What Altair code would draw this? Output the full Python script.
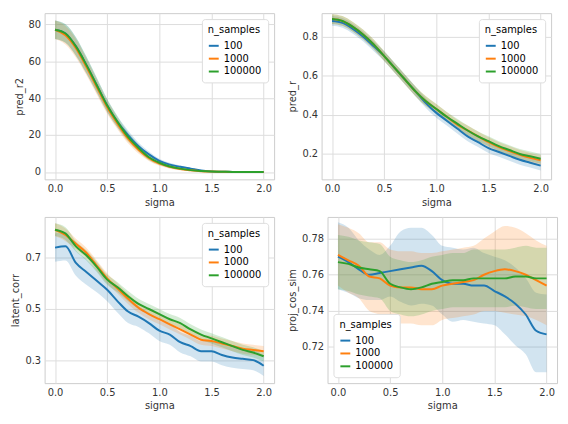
import altair as alt
import pandas as pd

sigma = [round(i * 0.1, 1) for i in range(21)]
n_samples = ["100", "1000", "100000"]
colors = ["#1f77b4", "#ff7f0e", "#2ca02c"]

# pred_r2
r2_100 = [77, 75, 68, 58, 47, 36, 27, 20, 14, 9.5, 6, 4, 2.8, 1.8, 0.8, 0.3, 0.1, 0.05, 0, 0, 0]
r2_1000 = [77, 74, 67, 57, 46, 35, 26, 18, 12, 7.5, 4.5, 2.8, 1.6, 0.9, 0.4, 0.2, 0.1, 0, 0, 0, 0]
r2_100000 = [77, 75, 68, 58, 47, 36, 27, 19, 13, 8, 5, 3, 1.8, 1, 0.5, 0.2, 0.1, 0, 0, 0, 0]
r2_band = [5, 5, 5, 4.5, 4, 3.5, 3, 2.5, 2, 1.6, 1.2, 1, 0.7, 0.5, 0.3, 0.2, 0.1, 0.1, 0, 0, 0]

# pred_r
r_100 = [0.88, 0.87, 0.84, 0.80, 0.75, 0.70, 0.64, 0.58, 0.52, 0.46, 0.41, 0.37, 0.33, 0.29, 0.26, 0.23, 0.21, 0.19, 0.17, 0.155, 0.14]
r_1000 = [0.89, 0.88, 0.85, 0.81, 0.76, 0.70, 0.64, 0.58, 0.52, 0.47, 0.43, 0.39, 0.35, 0.32, 0.29, 0.26, 0.235, 0.215, 0.195, 0.18, 0.168]
r_100000 = [0.89, 0.88, 0.85, 0.81, 0.76, 0.70, 0.64, 0.58, 0.52, 0.47, 0.43, 0.39, 0.355, 0.32, 0.29, 0.265, 0.24, 0.22, 0.20, 0.188, 0.175]
r_band = [0.025] * 21

# latent_corr
lc_100 = [0.74, 0.745, 0.68, 0.645, 0.61, 0.575, 0.53, 0.49, 0.47, 0.445, 0.415, 0.40, 0.37, 0.355, 0.335, 0.335, 0.32, 0.31, 0.305, 0.30, 0.278]
lc_1000 = [0.81, 0.79, 0.755, 0.72, 0.67, 0.62, 0.58, 0.54, 0.505, 0.48, 0.46, 0.44, 0.42, 0.40, 0.38, 0.375, 0.365, 0.355, 0.345, 0.34, 0.335]
lc_100000 = [0.81, 0.795, 0.745, 0.71, 0.665, 0.615, 0.585, 0.55, 0.52, 0.50, 0.48, 0.46, 0.445, 0.42, 0.40, 0.385, 0.37, 0.355, 0.34, 0.33, 0.315]
lc_band_100 = [0.055, 0.055, 0.05, 0.05, 0.045, 0.045, 0.045, 0.045, 0.04, 0.04, 0.04, 0.04, 0.04, 0.04, 0.04, 0.04, 0.04, 0.04, 0.04, 0.04, 0.04]
lc_band = [0.025, 0.025, 0.02, 0.02, 0.02, 0.02, 0.02, 0.02, 0.02, 0.02, 0.02, 0.02, 0.02, 0.02, 0.02, 0.02, 0.02, 0.02, 0.02, 0.02, 0.02]

# proj_cos_sim
pc_100 = [0.770, 0.767, 0.763, 0.760, 0.761, 0.762, 0.763, 0.764, 0.765, 0.762, 0.757, 0.755, 0.755, 0.754, 0.754, 0.751, 0.748, 0.744, 0.738, 0.729, 0.727]
pc_100_hi = [0.789, 0.786, 0.779, 0.774, 0.771, 0.776, 0.784, 0.786, 0.786, 0.782, 0.776, 0.775, 0.774, 0.775, 0.772, 0.770, 0.768, 0.764, 0.758, 0.750, 0.749]
pc_100_lo = [0.752, 0.750, 0.747, 0.746, 0.746, 0.748, 0.745, 0.743, 0.744, 0.743, 0.738, 0.734, 0.735, 0.734, 0.733, 0.732, 0.727, 0.721, 0.716, 0.706, 0.706]
pc_1000 = [0.771, 0.768, 0.765, 0.759, 0.758, 0.754, 0.753, 0.753, 0.752, 0.752, 0.754, 0.755, 0.756, 0.757, 0.760, 0.762, 0.763, 0.762, 0.760, 0.757, 0.754]
pc_1000_band = [0.017, 0.018, 0.018, 0.019, 0.020, 0.020, 0.020, 0.020, 0.020, 0.020, 0.019, 0.019, 0.019, 0.019, 0.020, 0.022, 0.024, 0.024, 0.023, 0.022, 0.022]
pc_100000 = [0.767, 0.766, 0.764, 0.763, 0.762, 0.755, 0.753, 0.752, 0.753, 0.755, 0.756, 0.757, 0.757, 0.758, 0.758, 0.758, 0.758, 0.759, 0.759, 0.758, 0.758]
pc_100000_band = [0.015, 0.015, 0.015, 0.015, 0.015, 0.015, 0.015, 0.015, 0.015, 0.015, 0.015, 0.015, 0.015, 0.016, 0.016, 0.016, 0.016, 0.016, 0.017, 0.017, 0.017]


def sym(mean, band):
    return [m - b for m, b in zip(mean, band)], [m + b for m, b in zip(mean, band)]


panels = {
    "pred_r2": [(r2_100, *sym(r2_100, r2_band)), (r2_1000, *sym(r2_1000, r2_band)), (r2_100000, *sym(r2_100000, r2_band))],
    "pred_r": [(r_100, *sym(r_100, r_band)), (r_1000, *sym(r_1000, r_band)), (r_100000, *sym(r_100000, r_band))],
    "latent_corr": [(lc_100, *sym(lc_100, lc_band_100)), (lc_1000, *sym(lc_1000, lc_band)), (lc_100000, *sym(lc_100000, lc_band))],
    "proj_cos_sim": [(pc_100, pc_100_lo, pc_100_hi), (pc_1000, *sym(pc_1000, pc_1000_band)), (pc_100000, *sym(pc_100000, pc_100000_band))],
}

domains = {
    "pred_r2": (-4, 86),
    "pred_r": (0.07, 0.92),
    "latent_corr": (0.21, 0.86),
    "proj_cos_sim": (0.70, 0.792),
}
ticks = {
    "pred_r2": [0, 20, 40, 60, 80],
    "pred_r": [0.2, 0.4, 0.6, 0.8],
    "latent_corr": [0.3, 0.4, 0.5, 0.6, 0.7, 0.8],
    "proj_cos_sim": [0.72, 0.74, 0.76, 0.78],
}
legend_pos = {"pred_r2": "top-right", "pred_r": "top-right", "latent_corr": "top-right", "proj_cos_sim": "bottom-left"}


def panel(name):
    rows = []
    for ns, (mean, lo, hi) in zip(n_samples, panels[name]):
        for s, m, l, h in zip(sigma, mean, lo, hi):
            rows.append({"sigma": s, "n_samples": ns, "mean": m, "lo": l, "hi": h})
    df = pd.DataFrame(rows)
    color = alt.Color(
        "n_samples:N",
        scale=alt.Scale(domain=n_samples, range=colors),
        legend=alt.Legend(orient=legend_pos[name], title="n_samples", symbolType="stroke",
                          symbolStrokeWidth=2, symbolOpacity=1, titleFontWeight="normal",
                          fillColor="white", strokeColor="#dddddd", padding=6, cornerRadius=3,
                          offset=6),
    )
    x = alt.X("sigma:Q", title="sigma", scale=alt.Scale(domain=[-0.1, 2.1], nice=False),
              axis=alt.Axis(values=[0, 0.5, 1, 1.5, 2], format=".1f"))
    base = alt.Chart(df)
    band = base.mark_area(opacity=0.2, interpolate="monotone").encode(
        x=x,
        y=alt.Y("lo:Q", title=name, scale=alt.Scale(domain=domains[name], nice=False, zero=False),
                axis=alt.Axis(values=ticks[name], labelOverlap=False)),
        y2="hi:Q",
        color=color,
    )
    line = base.mark_line(strokeWidth=2, interpolate="monotone").encode(
        x=x, y=alt.Y("mean:Q", title=name), color=color
    )
    return (band + line).properties(width=232, height=168)


top = alt.hconcat(panel("pred_r2"), panel("pred_r"), spacing=12).resolve_scale(color="independent")
bottom = alt.hconcat(panel("latent_corr"), panel("proj_cos_sim"), spacing=12).resolve_scale(color="independent")
chart = (
    alt.vconcat(top, bottom, spacing=8)
    .resolve_scale(color="independent")
    .configure(font="DejaVu Sans")
    .configure_axis(grid=True, gridColor="#dddddd", domain=False, ticks=False, labelFontSize=10,
                    titleFontSize=10, titleFontWeight="normal", labelColor="#333333", titleColor="#333333",
                    labelPadding=4)
    .configure_view(stroke="#cccccc")
    .configure_legend(labelFontSize=10, titleFontSize=10)
    .properties(padding=2)
)

chart.save("out.html", embed_options={"renderer": "svg", "actions": False})
